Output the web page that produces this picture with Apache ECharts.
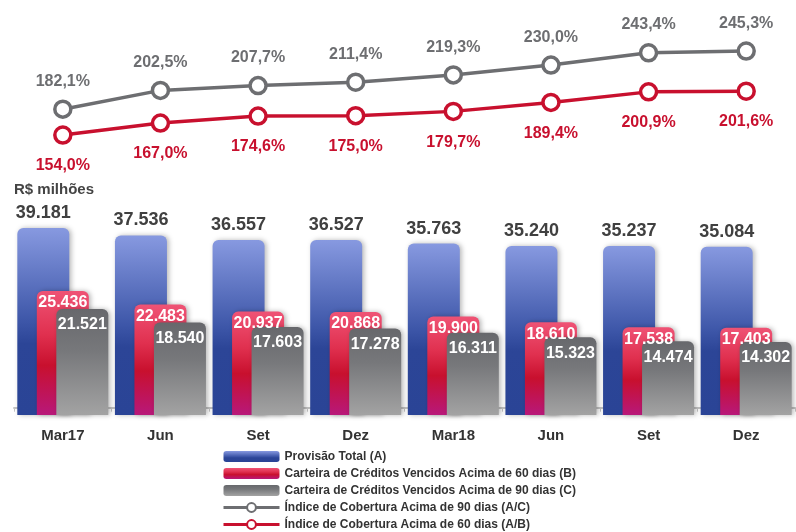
<!DOCTYPE html>
<html>
<head>
<meta charset="utf-8">
<script src="https://cdn.jsdelivr.net/npm/echarts@6/dist/echarts.min.js"></script>
<style>
  html, body { margin: 0; padding: 0; background: #fff; }
  #chart { width: 796px; height: 532px; }
</style>
</head>
<body>
<div id="chart"></div>
<script>
const categories = ['Mar17', 'Jun', 'Set', 'Dez', 'Mar18', 'Jun', 'Set', 'Dez']
const provisao = [39181, 37536, 36557, 36527, 35763, 35240, 35237, 35084]
const carteira60 = [25436, 22483, 20937, 20868, 19900, 18610, 17538, 17403]
const carteira90 = [21521, 18540, 17603, 17278, 16311, 15323, 14474, 14302]
const indice90 = [182.1, 202.5, 207.7, 211.4, 219.3, 230.0, 243.4, 245.3]
const indice60 = [154.0, 167.0, 174.6, 175.0, 179.7, 189.4, 200.9, 201.6]

const FONT = 'Liberation Sans, Arial, sans-serif'
const fmtThousands = v => v.toLocaleString('de-DE')
const fmtPct = v => v.toFixed(1).replace('.', ',') + '%'

const grad = (stops) => new echarts.graphic.LinearGradient(0, 0, 0, 1,
  stops.map(([offset, color]) => ({ offset, color })))

const blueGrad = grad([[0, '#8799e0'], [0.5, '#3d56a8'], [0.62, '#2c4597'], [1, '#2a4496']])
const redGrad = grad([[0, '#ef5375'], [0.35, '#e0304f'], [0.6, '#c8102e'], [1, '#b8187a']])
const grayGrad = grad([[0, '#67686c'], [0.4, '#77787b'], [1, '#a3a3a3']])

const barShadow = { shadowBlur: 5, shadowColor: 'rgba(0,0,0,0.28)', shadowOffsetX: 2, shadowOffsetY: 0 }

const chart = echarts.init(document.getElementById('chart'))

const option = {
  animation: false,
  textStyle: { fontFamily: FONT },
  title: {
    text: 'R$ milhões',
    left: 9,
    top: 177,
    textStyle: { fontSize: 15, fontWeight: 'bold', color: '#444', fontFamily: FONT }
  },
  grid: [
    { left: 14, right: 1, top: 37.5, height: 110.4 },
    { left: 14, right: 1, top: 215, height: 200 }
  ],
  xAxis: [
    { type: 'category', gridIndex: 0, data: categories, show: false },
    {
      type: 'category', gridIndex: 1, data: categories,
      axisLine: { lineStyle: { color: '#c4c4c4', width: 2 } },
      axisTick: { show: true, length: 4, lineStyle: { color: '#c4c4c4', width: 1 } },
      axisLabel: { fontSize: 15, fontWeight: 'bold', color: '#333', margin: 13, fontFamily: FONT }
    }
  ],
  yAxis: [
    { type: 'value', gridIndex: 0, min: 140, max: 260, show: false },
    { type: 'value', gridIndex: 1, min: -1600, max: 42000, startValue: -1600, show: false }
  ],
  legend: {
    orient: 'vertical',
    left: 222,
    top: 450,
    height: 82,
    padding: 0,
    itemWidth: 56,
    itemHeight: 11,
    itemGap: 4,
    lineStyle: { width: 3 },
    textStyle: { fontSize: 12, fontWeight: 'bold', color: '#333', lineHeight: 13, fontFamily: FONT },
    data: [
      { name: 'Provisão Total (A)', icon: 'roundRect' },
      { name: 'Carteira de Créditos Vencidos Acima de 60 dias (B)', icon: 'roundRect' },
      { name: 'Carteira de Créditos Vencidos Acima de 90 dias (C)', icon: 'roundRect' },
      'Índice de Cobertura Acima de 90 dias (A/C)',
      'Índice de Cobertura Acima de 60 dias (A/B)'
    ]
  },
  series: [
    {
      name: 'Provisão Total (A)',
      type: 'bar', xAxisIndex: 1, yAxisIndex: 1,
      data: provisao,
      barWidth: 52, barGap: '-62.5%',
      itemStyle: { color: blueGrad, borderRadius: [6, 6, 0, 0], ...barShadow },
      label: {
        show: true, position: 'top', distance: 6,
        formatter: p => fmtThousands(p.value),
        fontSize: 18, fontWeight: 'bold', color: '#404040', fontFamily: FONT
      }
    },
    {
      name: 'Carteira de Créditos Vencidos Acima de 60 dias (B)',
      type: 'bar', xAxisIndex: 1, yAxisIndex: 1,
      data: carteira60,
      barWidth: 52, barGap: '-62.5%',
      itemStyle: { color: redGrad, borderRadius: [6, 6, 0, 0], ...barShadow },
      label: {
        show: true, position: 'insideTop', distance: 4,
        formatter: p => fmtThousands(p.value),
        fontSize: 16, fontWeight: 'bold', color: '#fff', fontFamily: FONT
      }
    },
    {
      name: 'Carteira de Créditos Vencidos Acima de 90 dias (C)',
      type: 'bar', xAxisIndex: 1, yAxisIndex: 1,
      data: carteira90,
      barWidth: 52, barGap: '-62.5%',
      itemStyle: { color: grayGrad, borderRadius: [6, 6, 0, 0], ...barShadow },
      label: {
        show: true, position: 'insideTop', distance: 8,
        formatter: p => fmtThousands(p.value),
        fontSize: 16, fontWeight: 'bold', color: '#fff', fontFamily: FONT
      }
    },
    {
      name: 'Índice de Cobertura Acima de 90 dias (A/C)',
      type: 'line', xAxisIndex: 0, yAxisIndex: 0,
      data: indice90,
      symbol: 'circle', symbolSize: 16,
      lineStyle: { color: '#6d6e71', width: 3.5 },
      itemStyle: { color: '#fff', borderColor: '#6d6e71', borderWidth: 3.5 },
      label: {
        show: true, position: 'top', distance: 10,
        formatter: p => fmtPct(p.value),
        fontSize: 16, fontWeight: 'bold', color: '#6d6e71', fontFamily: FONT
      }
    },
    {
      name: 'Índice de Cobertura Acima de 60 dias (A/B)',
      type: 'line', xAxisIndex: 0, yAxisIndex: 0,
      data: indice60,
      symbol: 'circle', symbolSize: 16,
      lineStyle: { color: '#c8102e', width: 3.5 },
      itemStyle: { color: '#fff', borderColor: '#c8102e', borderWidth: 3.5 },
      label: {
        show: true, position: 'bottom', distance: 13,
        formatter: p => fmtPct(p.value),
        fontSize: 16, fontWeight: 'bold', color: '#c8102e', fontFamily: FONT
      }
    }
  ]
}

chart.setOption(option)
</script>
</body>
</html>
